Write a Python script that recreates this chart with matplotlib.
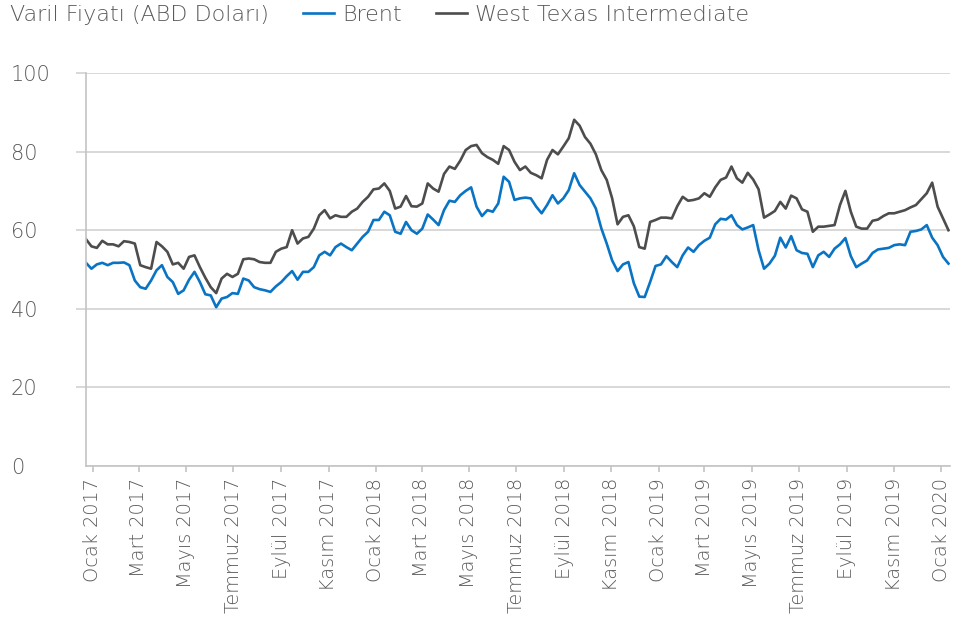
import matplotlib
matplotlib.use('Agg')
import matplotlib.pyplot as plt
import pandas as pd

# ---------------- data ----------------
start_date = '2016-12-23'   # weekly observations
brent = [51.7, 50.2, 51.3, 51.7, 51.1, 51.7, 51.7, 51.8, 51.1, 47.2,
         45.5, 45.1, 47.2, 49.8, 51.1, 48.1, 46.8, 43.8, 44.7, 47.4,
         49.4, 46.8, 43.7, 43.4, 40.4, 42.6, 43.0, 44.0, 43.8, 47.7,
         47.2, 45.5, 45.0, 44.7, 44.3, 45.7, 46.8, 48.3, 49.6, 47.4,
         49.4, 49.4, 50.6, 53.6, 54.5, 53.6, 55.7, 56.6, 55.7, 54.9,
         56.6, 58.3, 59.6, 62.6, 62.6, 64.7, 63.8, 59.6, 59.1, 62.1,
         60.0, 59.1, 60.4, 64.0, 62.7, 61.3, 65.1, 67.5, 67.2, 68.9,
         70.0, 70.9, 66.0, 63.6, 65.1, 64.7, 66.8, 73.6, 72.3, 67.7,
         68.1, 68.3, 68.1, 66.0, 64.3, 66.4, 68.9, 66.8, 68.1, 70.2,
         74.5, 71.5, 69.8, 68.1, 65.5, 60.5, 56.6, 52.3, 49.6, 51.3,
         51.9, 46.5, 43.1, 43.0, 46.8, 50.9, 51.3, 53.4, 51.9, 50.6,
         53.6, 55.6, 54.5, 56.2, 57.3, 58.1, 61.5, 62.9, 62.7, 63.8,
         61.3, 60.2, 60.7, 61.3, 54.9, 50.2, 51.5, 53.5, 58.1, 55.6,
         58.5, 54.9, 54.2, 54.0, 50.6, 53.6, 54.5, 53.2, 55.3, 56.4,
         58.0, 53.4, 50.6, 51.5, 52.3, 54.2, 55.1, 55.3, 55.5, 56.2,
         56.4, 56.2, 59.6, 59.8, 60.2, 61.3, 58.1, 56.2, 53.2, 51.5]
wti = [57.7, 55.9, 55.5, 57.3, 56.4, 56.4, 55.9, 57.2, 57.0, 56.6,
       51.1, 50.6, 50.2, 57.0, 55.9, 54.5, 51.3, 51.7, 50.2, 53.2,
       53.6, 50.6, 47.9, 45.5, 44.0, 47.7, 48.9, 48.1, 48.9, 52.6,
       52.8, 52.6, 51.9, 51.7, 51.7, 54.5, 55.3, 55.7, 60.0, 56.6,
       57.9, 58.3, 60.4, 63.8, 65.1, 63.0, 63.8, 63.4, 63.4, 64.7,
       65.5, 67.2, 68.5, 70.4, 70.6, 71.9, 70.0, 65.5, 66.0, 68.7,
       66.1, 66.0, 66.8, 71.9, 70.6, 69.8, 74.3, 76.2, 75.6, 77.7,
       80.4, 81.4, 81.7, 79.6, 78.6, 77.9, 76.9, 81.4, 80.4, 77.4,
       75.3, 76.2, 74.6, 74.0, 73.2, 77.9, 80.4, 79.3, 81.3, 83.4,
       88.1, 86.6, 83.7, 82.0, 79.3, 75.3, 72.8, 68.1, 61.5, 63.4,
       63.8, 61.0, 55.7, 55.3, 62.1, 62.6, 63.2, 63.2, 63.0, 66.1,
       68.5, 67.5, 67.7, 68.1, 69.4, 68.5, 70.9, 72.8, 73.4, 76.2,
       73.2, 72.1, 74.6, 72.9, 70.4, 63.2, 64.0, 64.9, 67.2, 65.5,
       68.8, 68.1, 65.3, 64.7, 59.6, 60.9, 60.9, 61.1, 61.3, 66.4,
       70.0, 64.7, 60.9, 60.4, 60.4, 62.4, 62.7, 63.6, 64.3, 64.3,
       64.7, 65.1, 65.8, 66.4, 67.9, 69.4, 72.1, 66.0, 63.0, 60.0]
series_names = ['Brent', 'West Texas Intermediate']
title_text = 'Varil Fiyatı (ABD Doları)'
y_ticks = [0, 20, 40, 60, 80, 100]
tick_dates = ['2017-01-01', '2017-03-01', '2017-05-01', '2017-07-01', '2017-09-01',
              '2017-11-01', '2018-01-01', '2018-03-01', '2018-05-01', '2018-07-01',
              '2018-09-01', '2018-11-01', '2019-01-01', '2019-03-01', '2019-05-01',
              '2019-07-01', '2019-09-01', '2019-11-01', '2020-01-01']
tick_labels = ['Ocak 2017', 'Mart 2017', 'Mayıs 2017', 'Temmuz 2017', 'Eylül 2017',
               'Kasım 2017', 'Ocak 2018', 'Mart 2018', 'Mayıs 2018', 'Temmuz 2018',
               'Eylül 2018', 'Kasım 2018', 'Ocak 2019', 'Mart 2019', 'Mayıs 2019',
               'Temmuz 2019', 'Eylül 2019', 'Kasım 2019', 'Ocak 2020']

# ---------------- style ----------------
plt.rcParams['font.family'] = ['DejaVu Sans']
plt.rcParams['font.weight'] = 200
TXT = '#5A5A5A'
GRID = '#D2D2D2'
BLUE = '#0A74C4'
DARK = '#4D4D4D'

W, H = 958, 621
fig = plt.figure(figsize=(W / 100, H / 100), dpi=100)
ax = fig.add_axes([86 / W, 1 - 466 / H, (950 - 86) / W, (466 - 73) / H])

dates = pd.date_range(start_date, periods=len(brent), freq='7D')
l1, = ax.plot(dates, brent, color=BLUE, lw=1.9, solid_joinstyle='round')
l2, = ax.plot(dates, wti, color=DARK, lw=1.9, solid_joinstyle='round')

ax.set_ylim(0, 100)
ax.set_xlim(pd.Timestamp('2016-12-23'), pd.Timestamp('2020-01-12'))

ax.set_yticks(y_ticks)
ax.yaxis.grid(True, color=GRID, lw=1.2)
ax.set_axisbelow(True)
for s in ['top', 'right']:
    ax.spines[s].set_visible(False)
for s in ['left', 'bottom']:
    ax.spines[s].set_color('#C4C4C4')
    ax.spines[s].set_linewidth(1.2)

ax.tick_params(axis='y', length=7.2, width=1.2, color=GRID, pad=47,
               labelsize=15, labelcolor=TXT)
for lab in ax.get_yticklabels():
    lab.set_horizontalalignment('left')
ax.yaxis.get_major_ticks()[0].tick1line.set_visible(False)

ax.set_xticks(pd.to_datetime(tick_dates))
ax.set_xticklabels(tick_labels, rotation=90, va='top', ha='center')
ax.tick_params(axis='x', length=4.5, width=1.2, color='#C4C4C4', pad=4,
               labelsize=13.9, labelcolor=TXT)

fig.text(10 / W, 1 - 15 / H, title_text, ha='left', va='center',
         fontsize=16, color=TXT)
fig.legend([l1, l2], series_names, loc='center left',
           bbox_to_anchor=(303 / W, 1 - 15 / H), ncol=2, frameon=False,
           handlelength=1.4, handletextpad=0.35, columnspacing=1.55,
           borderpad=0, borderaxespad=0, fontsize=16, labelcolor=TXT)

fig.savefig('out.png', dpi=100)
